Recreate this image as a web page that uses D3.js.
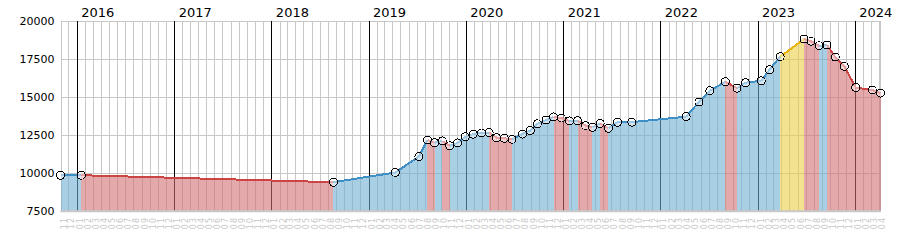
<!DOCTYPE html>
<html>
<head>
<meta charset="utf-8">
<script src="https://cdnjs.cloudflare.com/ajax/libs/d3/7.8.5/d3.min.js"></script>
<style>
	body { margin: 0; background: #fff; }
	svg { display: block; }
	text { font-family: "DejaVu Sans", Verdana, sans-serif; }
</style>
</head>
<body>
<div id="chart"></div>
<script>
// data points (date, value)
var dates = [
	"2015-11-01", "2016-01-18", "2018-08-22", "2019-04-12", "2019-07-09", "2019-08-10",
	"2019-09-06", "2019-10-05", "2019-11-02", "2019-12-01", "2019-12-30", "2020-01-29",
	"2020-03-01", "2020-03-29", "2020-04-26", "2020-05-25", "2020-06-23", "2020-08-01",
	"2020-08-31", "2020-09-26", "2020-10-29", "2020-11-26", "2020-12-25", "2021-01-24",
	"2021-02-24", "2021-03-26", "2021-04-21", "2021-05-20", "2021-06-20", "2021-07-24",
	"2021-09-16", "2022-04-08", "2022-05-26", "2022-07-06", "2022-09-02", "2022-10-16",
	"2022-11-17", "2023-01-15", "2023-02-15", "2023-03-27", "2023-06-25", "2023-07-21",
	"2023-08-20", "2023-09-19", "2023-10-20", "2023-11-23", "2024-01-05", "2024-03-07",
	"2024-04-07"
];
var values = [
	9860, 9860, 9400, 10040, 11080, 12170,
	11990, 12110, 11790, 11980, 12380, 12550,
	12630, 12650, 12320, 12280, 12220, 12560,
	12790, 13230, 13480, 13680, 13610, 13420,
	13430, 13120, 13000, 13260, 12940, 13330,
	13340, 13700, 14660, 15400, 15990, 15570,
	15930, 16050, 16780, 17630, 18790, 18650,
	18350, 18400, 17610, 17000, 15610, 15450,
	15250
];
// segments (by start date) drawn in yellow
var yellowStarts = ["2023-03-27"];
var yTicks = [7500, 10000, 12500, 15000, 17500, 20000];

var W = 900, H = 250;
var plotLeft = 60.5, plotRight = 880.5, plotTop = 20.6, plotBottom = 211.2;

var parse = d3.timeParse("%Y-%m-%d");
var points = dates.map(function(d, i) { return { date: parse(d), key: d, value: values[i] }; });

var x = d3.scaleTime()
	.domain([points[0].date, points[points.length - 1].date])
	.range([plotLeft, plotRight]);
var y = d3.scaleLinear().domain([7500, 20000]).range([plotBottom, plotTop]);

var svg = d3.select("#chart").append("svg")
	.attr("width", W).attr("height", H);

var colors = {
	up:     { fill: "#70afd4", line: "#3d8fc6" },
	down:   { fill: "#d27071", line: "#cc4444" },
	yellow: { fill: "#ebcf44", line: "#e6b400" }
};

// horizontal grid + y labels
var gy = svg.append("g")
	.attr("transform", "translate(" + plotLeft + ",0)")
	.call(d3.axisLeft(y).tickValues(yTicks).tickFormat(d3.format("d")).tickSize(-(plotRight - plotLeft)).tickPadding(6));
gy.select(".domain").remove();
gy.selectAll("line").attr("stroke", "#c8c8c8").attr("shape-rendering", "crispEdges");
gy.selectAll("text").attr("fill", "#000").style("font-size", "11px");

// monthly grid + month labels
var gx = svg.append("g")
	.attr("transform", "translate(0," + plotBottom + ")")
	.call(d3.axisBottom(x).ticks(d3.timeMonth.every(1)).tickFormat(d3.timeFormat("%m")).tickSize(-(plotBottom - plotTop)));
gx.select(".domain").remove();
gx.selectAll("line").attr("stroke", "#c8c8c8").attr("shape-rendering", "crispEdges");
gx.selectAll("text")
	.attr("x", 0).attr("y", 0).attr("dy", 0)
	.attr("transform", "translate(5.5,18) rotate(-90)")
	.attr("text-anchor", "start")
	.attr("fill", "#c8c8c8")
	.style("font-size", "8px")
	.style("letter-spacing", "1px");

// year lines + labels
var gyear = svg.append("g")
	.attr("transform", "translate(0," + plotTop + ")")
	.call(d3.axisTop(x).ticks(d3.timeYear.every(1)).tickFormat(d3.timeFormat("%Y")).tickSize(-(plotBottom - plotTop)).tickPadding(4));
gyear.select(".domain").remove();
gyear.selectAll("line").attr("stroke", "#000").attr("shape-rendering", "crispEdges");
gyear.selectAll("text").attr("x", 4).attr("text-anchor", "start").attr("fill", "#000").style("font-size", "13px");

// right border
svg.append("line")
	.attr("x1", plotRight).attr("x2", plotRight).attr("y1", plotTop).attr("y2", plotBottom)
	.attr("stroke", "#c8c8c8").attr("shape-rendering", "crispEdges");

// segments
var segs = [];
for (var i = 0; i < points.length - 1; i++) {
	var a = points[i], b = points[i + 1];
	var kind = yellowStarts.indexOf(a.key) >= 0 ? "yellow" : (b.value >= a.value ? "up" : "down");
	segs.push({ a: a, b: b, kind: kind });
}

var area = d3.area()
	.x(function(d) { return x(d.date); })
	.y0(plotBottom)
	.y1(function(d) { return y(d.value); });

svg.append("g").selectAll("path")
	.data(segs)
	.enter().append("path")
	.attr("d", function(s) { return area([s.a, s.b]); })
	.attr("fill", function(s) { return colors[s.kind].fill; })
	.attr("fill-opacity", 0.6)
	.attr("shape-rendering", "crispEdges");

// bottom axis line
svg.append("line")
	.attr("x1", plotLeft).attr("x2", plotRight).attr("y1", plotBottom).attr("y2", plotBottom)
	.attr("stroke", "#c8c8c8").attr("stroke-width", 2);

var line = d3.line()
	.x(function(d) { return x(d.date); })
	.y(function(d) { return y(d.value); });

svg.append("g").selectAll("path")
	.data(segs)
	.enter().append("path")
	.attr("d", function(s) { return line([s.a, s.b]); })
	.attr("fill", "none")
	.attr("stroke", function(s) { return colors[s.kind].line; })
	.attr("stroke-width", 2)
	.attr("shape-rendering", "crispEdges");

svg.append("g").selectAll("circle")
	.data(points)
	.enter().append("circle")
	.attr("cx", function(d) { return x(d.date); })
	.attr("cy", function(d) { return y(d.value); })
	.attr("r", 4)
	.attr("fill", "#fff")
	.attr("fill-opacity", 0.5)
	.attr("stroke", "#000")
	.attr("stroke-width", 1)
	.attr("shape-rendering", "crispEdges");
</script>
</body>
</html>
